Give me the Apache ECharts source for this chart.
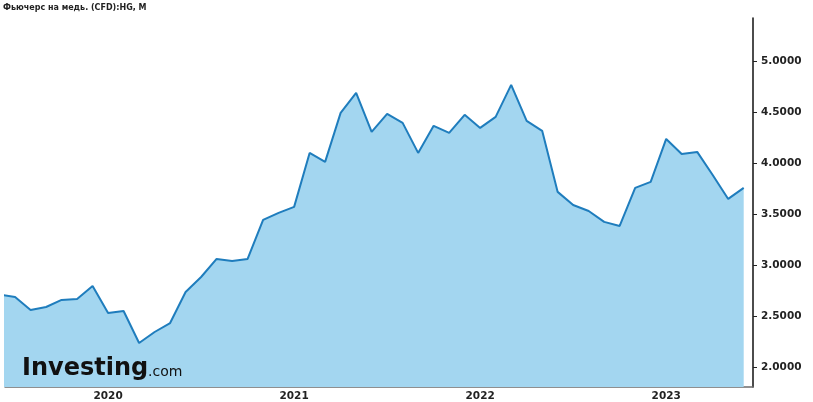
<!DOCTYPE html>
<html>
<head>
<meta charset="utf-8">
<style>
html,body{margin:0;padding:0;background:#fff;}
#chart{width:813px;height:402px;}
</style>
<script src="https://cdn.jsdelivr.net/npm/echarts@6/dist/echarts.min.js"></script>
</head>
<body>
<div id="chart"></div>
<script>
// Monthly closes, copper futures (CFD) HG
var months = [
  '2019-06','2019-07','2019-08','2019-09','2019-10','2019-11','2019-12',
  '2020-01','2020-02','2020-03','2020-04','2020-05','2020-06','2020-07','2020-08','2020-09','2020-10','2020-11','2020-12',
  '2021-01','2021-02','2021-03','2021-04','2021-05','2021-06','2021-07','2021-08','2021-09','2021-10','2021-11','2021-12',
  '2022-01','2022-02','2022-03','2022-04','2022-05','2022-06','2022-07','2022-08','2022-09','2022-10','2022-11','2022-12',
  '2023-01','2023-02','2023-03','2023-04','2023-05','2023-06'
];
var prices = [
  2.71, 2.686, 2.559, 2.588, 2.657, 2.667, 2.794,
  2.529, 2.549, 2.235, 2.343, 2.431, 2.735, 2.882, 3.059, 3.039, 3.059, 3.441, 3.510,
  3.569, 4.098, 4.010, 4.490, 4.686, 4.304, 4.480, 4.392, 4.098, 4.363, 4.294, 4.471,
  4.343, 4.451, 4.765, 4.412, 4.314, 3.716, 3.588, 3.529, 3.422, 3.382, 3.755, 3.814,
  4.235, 4.088, 4.108, 3.882, 3.647, 3.755
];
var yearLabels = ['2020','2021','2022','2023'];
var priceTicks = [2.0, 2.5, 3.0, 3.5, 4.0, 4.5, 5.0];
var titleText = 'Фьючерс на медь. (CFD):HG, M';

function monthIndex(s){
  var p = s.split('-');
  return (parseInt(p[0],10) - 2020) * 12 + (parseInt(p[1],10) - 1);
}
var seriesData = months.map(function(m,i){ return [monthIndex(m), prices[i]]; });
var yearPos = yearLabels.map(function(y){ return monthIndex(y + '-01'); });

var chart = echarts.init(document.getElementById('chart'), null, {renderer:'canvas'});
chart.setOption({
  backgroundColor: '#ffffff',
  animation: false,
  grid: {left: 5, right: 60, top: 18, bottom: 15, containLabel: false},
  xAxis: {
    type: 'value',
    min: -6.65,
    max: 41.6,
    axisLine: {show: true, onZero: false, lineStyle: {color: '#6b6b6b', width: 1.5}},
    axisTick: {show: true, inside: true, length: 3, customValues: yearPos, lineStyle: {color: '#333'}},
    splitLine: {show: false},
    axisLabel: {
      customValues: yearPos,
      margin: 4,
      color: '#222',
      fontFamily: 'DejaVu Sans',
      fontWeight: 'bold',
      fontSize: 10.5,
      formatter: function(v){ return String(2020 + Math.round(v/12)); }
    }
  },
  yAxis: {
    type: 'value',
    position: 'right',
    min: 1.804,
    max: 5.42,
    axisLine: {show: true, onZero: false, lineStyle: {color: '#111', width: 1.5}},
    axisTick: {show: true, length: 4, customValues: priceTicks, lineStyle: {color: '#222'}},
    splitLine: {show: false},
    axisLabel: {
      customValues: priceTicks,
      margin: 8,
      color: '#222',
      fontFamily: 'DejaVu Sans',
      fontWeight: 'bold',
      fontSize: 10.5,
      formatter: function(v){ return v.toFixed(4); }
    }
  },
  series: [{
    type: 'line',
    data: seriesData,
    symbol: 'none',
    clip: true,
    lineStyle: {color: '#1f7dbd', width: 2},
    areaStyle: {color: '#a3d6f0', opacity: 1, origin: 'start'}
  }],
  graphic: [
    {type: 'text', left: 3, top: 4, style: {text: titleText, fontFamily: 'DejaVu Sans', fontWeight: 'bold', fontSize: 8, fill: '#222'}},
    {type: 'text', left: 22, top: 357, z: 10, style: {text: 'Investing', fontFamily: 'DejaVu Sans', fontWeight: 'bold', fontSize: 24, fill: '#111'}},
    {type: 'text', left: 148, top: 365, z: 10, style: {text: '.com', fontFamily: 'DejaVu Sans', fontSize: 14, fill: '#111'}}
  ]
});
</script>
</body>
</html>
